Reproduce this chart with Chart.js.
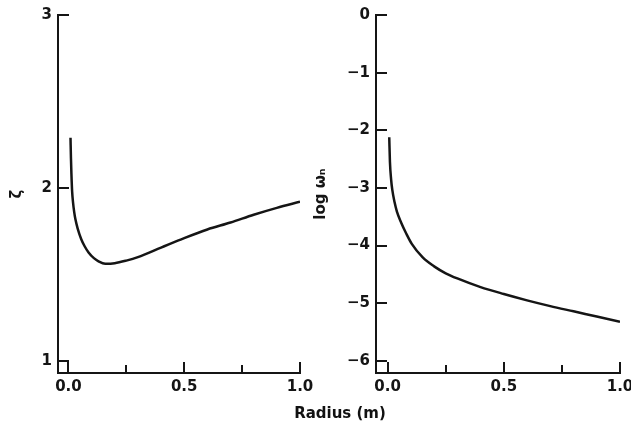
<!DOCTYPE html>
<html>
<head>
<meta charset="utf-8">
<script src="https://cdn.jsdelivr.net/npm/chart.js@4"></script>
<style>
  html, body { margin: 0; padding: 0; background: #fff; overflow: hidden; }
  #wrap { position: relative; width: 631px; height: 424px; }
  #c1 { position: absolute; left: 0; top: 0; }
  #c2 { position: absolute; left: 310px; top: 0; }
  #xtitle {
    position: absolute; left: 240px; width: 200px; top: 404px;
    text-align: center; font: bold 15px "DejaVu Sans", sans-serif; color: #111;
  }
</style>
</head>
<body>
<div id="wrap">
  <canvas id="c1" width="320" height="424" style="width:320px;height:424px"></canvas>
  <canvas id="c2" width="335" height="424" style="width:335px;height:424px"></canvas>
  <div id="xtitle">Radius (m)</div>
</div>
<script>
// ── data ────────────────────────────────────────────────────────────────────
const radiusZeta = [0.009, 0.011, 0.013, 0.016, 0.02, 0.025, 0.03, 0.04, 0.055, 0.07, 0.087, 0.11,
                    0.13, 0.159, 0.2, 0.25, 0.3, 0.4, 0.5, 0.6, 0.7, 0.8, 0.9, 1.0];
const zetaValues = [2.29, 2.17, 2.08, 1.98, 1.915, 1.86, 1.82, 1.765, 1.705, 1.663, 1.627, 1.594,
                    1.576, 1.562, 1.565, 1.58, 1.60, 1.655, 1.71, 1.76, 1.80, 1.845, 1.885, 1.92];

const radiusOmega = [0.007, 0.01, 0.015, 0.02, 0.03, 0.04, 0.058, 0.08, 0.104, 0.15, 0.2, 0.25,
                     0.3, 0.4, 0.5, 0.6, 0.7, 0.8, 0.9, 1.0];
const logOmegaValues = [-2.12, -2.55, -2.85, -3.03, -3.25, -3.41, -3.60, -3.79, -3.97, -4.20, -4.36, -4.48,
                        -4.57, -4.72, -4.84, -4.95, -5.05, -5.14, -5.23, -5.32];

const radiusTicks = [0, 0.5, 1.0];
const radiusMinorTicks = [0.25, 0.75];
const zetaTicks = [1, 2, 3];
const logOmegaTicks = [0, -1, -2, -3, -4, -5, -6];

// ── helpers ─────────────────────────────────────────────────────────────────
const INK = '#151515';
const tickFont = { family: 'DejaVu Sans', size: 15, weight: 'bold' };

function toPoints(xs, ys) {
    return xs.map((x, i) => ({ x, y: ys[i] }));
}

// ticks drawn inward, as in the original figure
const inwardTicks = {
    id: 'inwardTicks',
    afterDraw(chart, args, opts) {
        const { ctx, chartArea } = chart;
        const sx = chart.scales.x, sy = chart.scales.y;
        ctx.save();
        ctx.strokeStyle = INK;
        ctx.lineWidth = 2;
        ctx.beginPath();
        opts.xMajor.forEach(v => {
            const px = Math.round(sx.getPixelForValue(v));
            ctx.moveTo(px, chartArea.bottom); ctx.lineTo(px, chartArea.bottom - 11);
        });
        opts.xMinor.forEach(v => {
            const px = Math.round(sx.getPixelForValue(v));
            ctx.moveTo(px, chartArea.bottom); ctx.lineTo(px, chartArea.bottom - 8);
        });
        opts.yMajor.forEach(v => {
            const py = Math.round(sy.getPixelForValue(v));
            ctx.moveTo(chartArea.left, py); ctx.lineTo(chartArea.left + 11, py);
        });
        ctx.stroke();
        ctx.restore();
    }
};

function makePanel(canvasId, xs, ys, cfg) {
    const ctx = document.getElementById(canvasId).getContext('2d');
    return new Chart(ctx, {
        type: 'line',
        data: {
            datasets: [{
                data: toPoints(xs, ys),
                borderColor: INK, borderWidth: 2.5,
                pointRadius: 0, fill: false,
                cubicInterpolationMode: 'monotone'
            }]
        },
        options: {
            responsive: false, animation: false,
            layout: { padding: cfg.padding },
            plugins: {
                legend: { display: false }, tooltip: { enabled: false },
                inwardTicks: { xMajor: radiusTicks, xMinor: radiusMinorTicks, yMajor: cfg.yTicks }
            },
            scales: {
                x: {
                    type: 'linear', min: cfg.xMin, max: 1.0,
                    grid: { display: false, drawTicks: false },
                    border: { display: true, color: INK, width: 2 },
                    afterBuildTicks: s => { s.ticks = radiusTicks.map(v => ({ value: v })); },
                    afterFit: s => { s.height = 424 - cfg.bottom - cfg.padding.bottom; },
                    ticks: { color: INK, font: tickFont, padding: 5, maxRotation: 0,
                             callback: v => Number(v).toFixed(1) }
                },
                y: {
                    type: 'linear', min: cfg.yMin, max: cfg.yMax,
                    grid: { display: false, drawTicks: false },
                    border: { display: true, color: INK, width: 2 },
                    afterBuildTicks: s => { s.ticks = cfg.yTicks.map(v => ({ value: v })); },
                    afterFit: s => { s.width = cfg.left - cfg.padding.left; },
                    ticks: { color: INK, font: tickFont, padding: 6,
                             callback: v => (v < 0 ? '\u2212' + Math.abs(v) : String(v)) },
                    title: {
                        display: true, text: cfg.title, color: INK,
                        font: { family: 'DejaVu Sans', size: 15, weight: 'bold' },
                        padding: { top: cfg.titlePad, bottom: 0 }
                    }
                }
            }
        },
        plugins: [inwardTicks]
    });
}

// ── panels ──────────────────────────────────────────────────────────────────
makePanel('c1', radiusZeta, zetaValues, {
    xMin: -0.045, yMin: 0.93, yMax: 3, yTicks: zetaTicks,
    left: 58, bottom: 373, title: '\u03B6', titlePad: 8,
    padding: { left: 0, top: 15, right: 20, bottom: 0 }
});

makePanel('c2', radiusOmega, logOmegaValues, {
    xMin: -0.05, yMin: -6.21, yMax: 0, yTicks: logOmegaTicks,
    left: 66, bottom: 373, title: 'log \u03C9\u2099', titlePad: 2,
    padding: { left: 0, top: 14, right: 25, bottom: 0 }
});
</script>
</body>
</html>
